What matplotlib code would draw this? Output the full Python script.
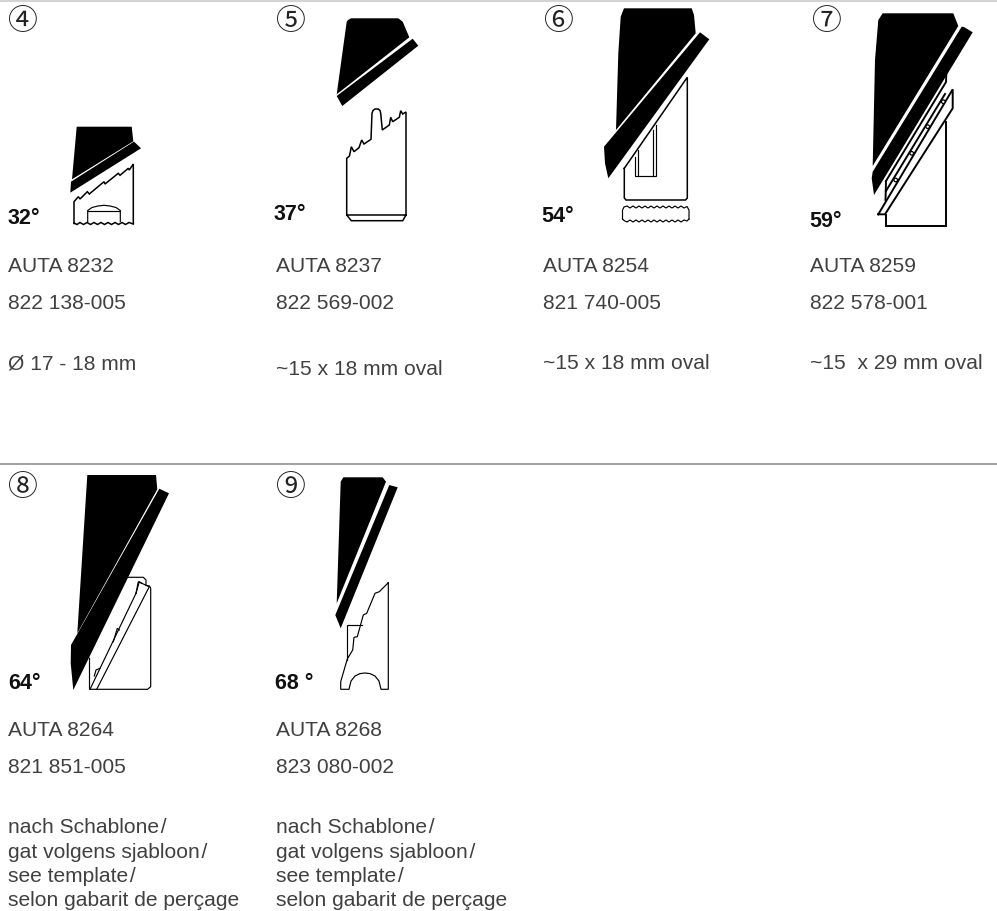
import matplotlib
matplotlib.use("Agg")
import matplotlib.pyplot as plt
from matplotlib.patches import Polygon, Circle

INK = "#000000"
TEXT = "#404040"

# --- black wedges and strips
black_shapes = [
    # 4
    [(76.7,126.7),(131.7,126.7),(133.3,141.3),(72,179.3)],
    [(134,141.6),(141,148.3),(70.3,192.7),(71,181.7)],
    # 5
    [(336.7,94.3),(346.7,21.7),(348,20),(351,18.3),(398.3,18.3),(402.7,21.7),(409.3,37.3)],
    [(412.7,38.7),(418.3,45.7),(342.3,106),(336.7,96)],
    # 6
    [(616,130),(618.3,53.3),(620.7,16.7),(624,8.3),(691.7,8.3),(694,15),(695.7,33.3)],
    [(700,32.3),(709.3,39.3),(608.3,178.3),(605,163.3),(604,146.7)],
    # 7
    [(872.7,166),(875,60),(878.3,20),(882.7,13.3),(953.3,13.3),(958.3,26)],
    [(961.7,26.7),(964,27),(972.7,32.3),(874,195),(871.7,178.3),(872.7,171.7)],
    # 8
    [(77.3,633.3),(87.3,475),(156,475),(157.3,489.3)],
    [(159.3,488.7),(169,493.3),(73.3,690),(70.7,663.3),(71,645)],
    # 9
    [(336.7,603.3),(340.7,481.7),(343.3,477.3),(382.7,477.3),(386,481.7)],
    [(389.3,485),(397.7,487.3),(340.7,628.3),(335.3,615)],
]

# --- outlines, open polylines
outline_4 = [(74,223.5),(74,201.7),(78.3,196.7),(80,199),(87.3,191.7),(89.3,194),(104,181.7),(105,184),
             (118.3,173.3),(120,175.3),(128.3,168.3),(129.3,170),(133.3,164),(133.3,223.5)]
waves_4 = [(74,223),(77,224.5),(80,222.5),(83.5,224.5),(87,222.5),(90.5,224.5),(94,222.5),(97.5,224.5),
           (101,222.5),(104.5,224.5),(108,222.5),(111.5,224.5),(115,222.5),(118.5,224.5),(122,222.5),
           (125.5,224.5),(129,222.5),(133.3,224)]
dome_4 = [(87.7,221.5),(87.7,210.5),(92,207.5),(98,206),(104,205.3),(110,206),(116,207.5),(120.3,210.5),(120.3,221.5)]
dome_base_4 = [(87.7,210.5),(120.3,210.5)]

outline_5 = [(346.7,215),(346.7,158.3),(349.5,156),(351.3,146.7),(354,151.7),(359,147.7),(361.7,140),(364,144),
             (371,139.3),(372,113.3),(373,110.5),(375,109),(378.3,109),(380,110.5),(380.7,113.3),(382.3,130),
             (389.3,125),(390.7,117.3),(392.7,121.7),(399.3,117.3),(400.7,110.7),(402.7,114),(406,112),
             (406,215),(402.7,220.7),(351.3,220.7),(346.7,215),(406,215)]

outline_6 = [(624.3,168.3),(687.3,77.3),(687.3,198),(685.5,200),(626,200),(624.3,198),(624.3,168.3)]
slot_6 = [(634.7,156.7),(634.7,176),(656,176),(656,125)]
slot_6b = [(638.3,150),(638.3,176)]
slot_6c = [(652.7,130),(652.7,176)]
gear_6_top = [(622.5,219),(622.5,210),(624,207),(627,206),(630,208),(633,206),(636,208),(639,206),(642,208),(645,206),
              (648,208),(651,206),(654,208),(657,206),(660,208),(663,206),(666,208),(669,206),(672,208),(675,206),
              (678,208),(681,206),(684,208),(687,206.5),(689,210),(689,219)]
gear_6_bot = [(622.5,219),(624,220.5),(627,222),(630,220),(633,222),(636,220),(639,222),(642,220),(645,222),(648,220),
              (651,222),(654,220),(657,222),(660,220),(663,222),(666,220),(669,222),(672,220),(675,222),(678,220),
              (681,222),(684,220),(687,221),(689,219)]

body_7a = [(886,181),(946,82),(946.3,74)]
body_7b = [(946,121.7),(946,226),(886,226),(886,215)]
body_7c = [(885.5,200),(886,181)]
plate_7 = [(878.3,214.3),(952.7,89.3),(952.7,108.3),(885,214.3),(878.3,214.3)]
slot_7 = [(886,191),(945,94)]
rivets_x = [895.7,911.7,927.7,943.3]
rivets_y = [180,153.3,126.7,101.7]

outline_8 = [(89.5,658.3),(89.5,689.3),(147.5,689.3),(150.7,686.7),(150.7,588.3),(149.5,586),(146,585.5)]
top_8 = [(128.3,577.3),(143.3,577.3),(146,580),(146,585)]
plate_8a = [(96.7,689.3),(149.3,586.7),(138.3,581.7),(136,593.3)]
plate_8b = [(90,689.3),(136,593.3)]
tri_8 = [(119.3,630),(117.3,628.3),(113.3,641.7)]
tri_8b = [(100,668.3),(96,670),(94.3,676)]
tri_8c = [(141.7,583.3),(139.3,581.7),(136,593.3)]

outline_9 = [(388.3,582.7),(388.3,689.3),(381,689.3),(379,681),(375,676),(370,673.6),(365,673),(360,673.6),(355,676),
             (351,681),(349,689.3),(340.7,689.3),(340.7,681.7),(347.3,659),(352.7,650),(354,637.3),(357.3,636.7),
             (363.3,615),(366.7,613.3),(375,593.3),(379.3,591.7),(388.3,582.7)]
rect_9 = [(346.7,660),(346.7,625),(361.7,625)]

heavy_lines = [body_7a, body_7b, body_7c, plate_7, slot_7]
thick_lines = [outline_4, waves_4, outline_5, outline_6]
thin_lines = [dome_4, dome_base_4, slot_6, slot_6b, slot_6c, gear_6_top, gear_6_bot, outline_8, top_8, plate_8a,
              plate_8b, tri_8, tri_8b, tri_8c, outline_9, rect_9]

# --- text
circled = ["④","⑤","⑥","⑦","⑧","⑨"]
circled_x = [23.3,291,558.7,826.7,22.7,290.7]
circled_y = [22,22,22,22,488,488]

angles = ["32°","37°","54°","59°","64°","68 °"]
angles_x = [8,273.5,541,809,8,275]
angles_y = [224,220,222,227,689,689]

col_x = [8,275.5,543,810]
names_top = ["AUTA 8232","AUTA 8237","AUTA 8254","AUTA 8259"]
parts_top = ["822 138-005","822 569-002","821 740-005","822 578-001"]
sizes_top = ["Ø 17 - 18 mm","~15 x 18 mm oval","~15 x 18 mm oval","~15  x 29 mm oval"]
sizes_y = [369,375,369,369]

names_low = ["AUTA 8264","AUTA 8268"]
parts_low = ["821 851-005","823 080-002"]
template = ["nach Schablone\u200a/","gat volgens sjabloon\u200a/","see template\u200a/","selon gabarit de perçage"]
template_y = [833.3,857.5,881.7,906]

fig = plt.figure(figsize=(9.97,9.11),dpi=100)
ax = fig.add_axes([0,0,1,1])
ax.set_xlim(0,997)
ax.set_ylim(911,0)
ax.axis("off")

# rules
ax.plot([0,997],[0.5,0.5],color="#cccccc",lw=1.2)
ax.plot([0,997],[464,464],color="#888888",lw=1.1)

for pts in black_shapes:
    ax.add_patch(Polygon(pts,closed=True,fc=INK,ec="none"))
for pts in heavy_lines:
    ax.plot(*zip(*pts),color=INK,lw=1.4,solid_joinstyle="miter")
for pts in thick_lines:
    ax.plot(*zip(*pts),color=INK,lw=1.1,solid_joinstyle="miter")
for pts in thin_lines:
    ax.plot(*zip(*pts),color=INK,lw=0.85,solid_joinstyle="miter")
for cx,cy in zip(rivets_x,rivets_y):
    ax.add_patch(Circle((cx,cy),1.8,fc="white",ec=INK,lw=0.9,zorder=5))

sans = "Liberation Sans"
for s,x,y in zip(circled,circled_x,circled_y):
    ax.text(x,y,s,fontsize=21.5,family="Noto Sans CJK JP",color="#222222",ha="center",va="center")
for s,x,y in zip(angles,angles_x,angles_y):
    ax.text(x,y,s,fontsize=15.5,family=sans,weight="bold",color="#111111",va="baseline")
for x,n,p,s,sy in zip(col_x,names_top,parts_top,sizes_top,sizes_y):
    ax.text(x,272,n,fontsize=15.1,family=sans,color=TEXT,va="baseline")
    ax.text(x,308.7,p,fontsize=15.1,family=sans,color=TEXT,va="baseline")
    ax.text(x,sy,s,fontsize=15.1,family=sans,color=TEXT,va="baseline")
for x,n,p in zip(col_x,names_low,parts_low):
    ax.text(x,736,n,fontsize=15.1,family=sans,color=TEXT,va="baseline")
    ax.text(x,772.7,p,fontsize=15.1,family=sans,color=TEXT,va="baseline")
    for s,y in zip(template,template_y):
        ax.text(x,y,s,fontsize=15.1,family=sans,color=TEXT,va="baseline")

fig.savefig("out.png",dpi=100)
